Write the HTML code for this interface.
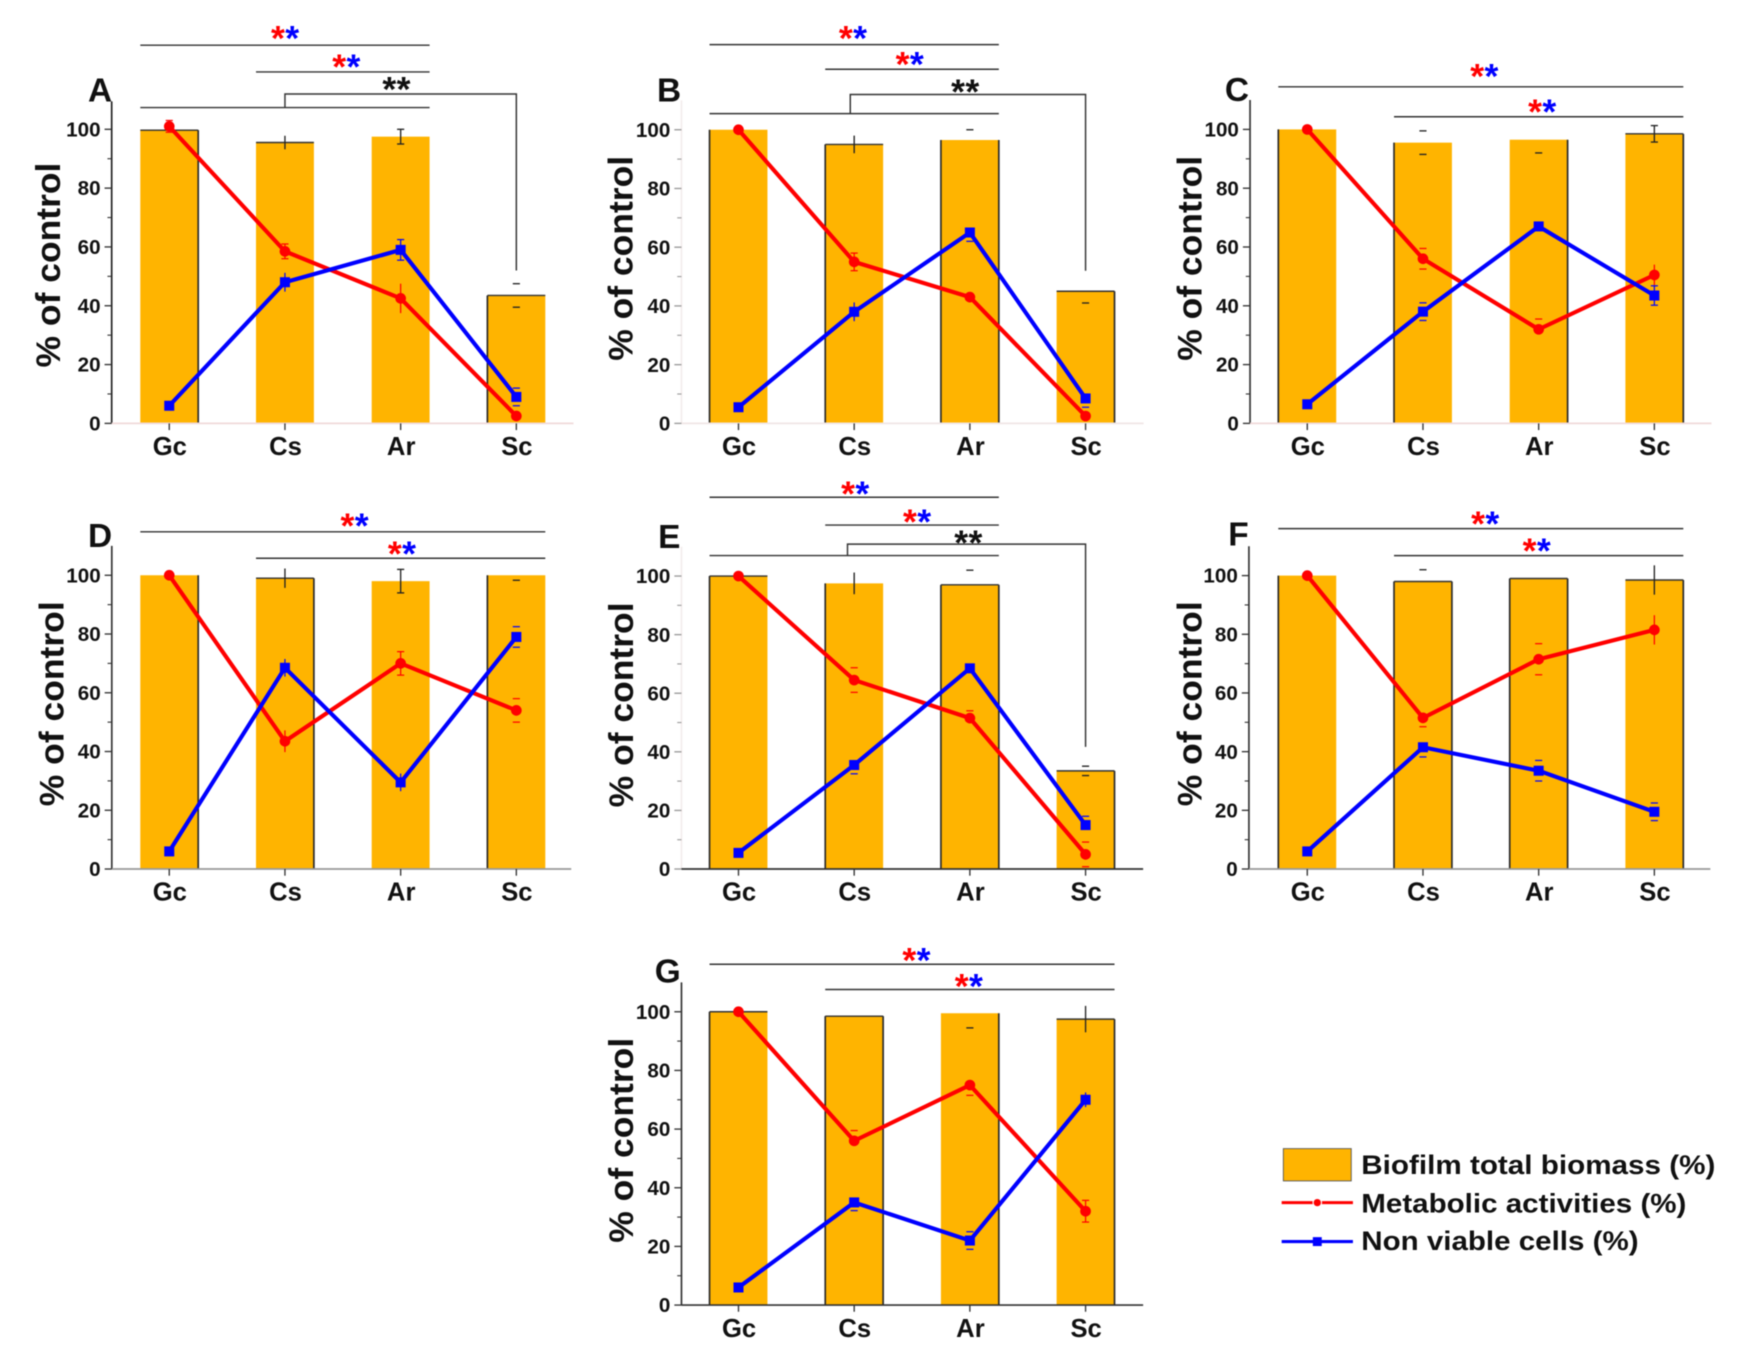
<!DOCTYPE html>
<html lang="en">
<head>
<meta charset="utf-8">
<title>Biofilm biomass, metabolic activity and non viable cells</title>
<style>
html,body{margin:0;padding:0;background:#fff;}
#figure{display:block;width:1746px;height:1367px;filter:blur(0.65px);}
text{font-family:"Liberation Sans",Arial,sans-serif;font-weight:bold;fill:#111;}
</style>
</head>
<body>
<svg id="figure" xmlns="http://www.w3.org/2000/svg" width="1746" height="1367" viewBox="0 0 1568 1227.6">
  <rect x="0" y="0" width="1568" height="1227.6" fill="#fff"/>
  <g id="panels"></g>
  <g id="legend">
    <rect x="1152.5" y="1031.5" width="61" height="29" fill="#FFB400" stroke="#555" stroke-width="0.8"/>
    <text x="1222.5" y="1054.5" font-size="24" textLength="318" lengthAdjust="spacingAndGlyphs">Biofilm total biomass (%)</text>
    <line x1="1151" y1="1080" x2="1215" y2="1080" stroke="#f00" stroke-width="2.8"/>
    <circle cx="1183" cy="1080" r="3.8" fill="#f00" stroke="#fff" stroke-width="1"/>
    <text x="1222.5" y="1089" font-size="24" textLength="292" lengthAdjust="spacingAndGlyphs">Metabolic activities (%)</text>
    <line x1="1151" y1="1115" x2="1215" y2="1115" stroke="#00f" stroke-width="2.8"/>
    <rect x="1179" y="1111" width="8" height="8" fill="#00f"/>
    <text x="1222.5" y="1122.6" font-size="24" textLength="249" lengthAdjust="spacingAndGlyphs">Non viable cells (%)</text>
  </g>
</svg>
<script>
// ---- Chart data (percent of control) ----
const categories = ['Gc', 'Cs', 'Ar', 'Sc'];
const yTickValues = [0, 20, 40, 60, 80, 100];
const yMinorTickValues = [10, 30, 50, 70, 90];

const biomassA = [99.7, 95.5, 97.5, 43.5];
const metabolicA = [101, 58.5, 42.5, 2.5];
const nonViableA = [6, 48, 59, 9];
const biomassErrA = [0, 2.3, 2.5, 4];
const metabolicErrA = [2, 2.5, 5, 1];
const nonViableErrA = [0.5, 3.2, 3.5, 3];

const biomassB = [100, 95, 96.5, 45];
const metabolicB = [100, 55, 43, 2.5];
const nonViableB = [5.5, 38, 65, 8.5];
const biomassErrB = [0, 3, 3.5, 4];
const metabolicErrB = [0.5, 3, 1, 1.5];
const nonViableErrB = [0.5, 3.2, 3, 3];

const biomassC = [100, 95.5, 96.5, 98.5];
const metabolicC = [100, 56, 32, 50.5];
const nonViableC = [6.5, 38, 67, 43.5];
const biomassErrC = [0, 4, 4.5, 2.8];
const metabolicErrC = [0.5, 3.5, 3.5, 3.5];
const nonViableErrC = [0.5, 3, 1, 3.3];

const biomassD = [100, 99, 98, 100];
const metabolicD = [100, 43.5, 70, 54];
const nonViableD = [6, 68.5, 29.5, 79];
const biomassErrD = [0, 3.3, 4, 1.7];
const metabolicErrD = [0.5, 3.7, 4, 4];
const nonViableErrD = [0.5, 3, 3, 3.5];

const biomassE = [100, 97.5, 97, 33.5];
const metabolicE = [100, 64.5, 51.5, 5];
const nonViableE = [5.5, 35.5, 68.5, 15];
const biomassErrE = [0, 3.7, 5, 1.6];
const metabolicErrE = [1, 4.2, 2.5, 4.2];
const nonViableErrE = [0.5, 3, 1, 3];

const biomassF = [100, 98, 99, 98.5];
const metabolicF = [100, 51.5, 71.5, 81.5];
const nonViableF = [6, 41.5, 33.5, 19.5];
const biomassErrF = [0, 4, 0, 5];
const metabolicErrF = [0.5, 3, 5.3, 5];
const nonViableErrF = [0.5, 3.3, 3.5, 3];

const biomassG = [100, 98.5, 99.5, 97.5];
const metabolicG = [100, 56, 75, 32];
const nonViableG = [6, 35, 22, 70];
const biomassErrG = [0, 0, 5, 4.5];
const metabolicErrG = [0.5, 3.5, 3.5, 3.7];
const nonViableErrG = [0.5, 2.8, 3, 2.5];

// ---- Panel layout ----
const panelLayouts = [
  {id:'A', values:biomassA, red:metabolicA, blue:nonViableA, barErr:biomassErrA, redErr:metabolicErrA, blueErr:nonViableErrA,
   axisX:100.3, first:152, y0:380.2, y100:116.1, endX:515, top:109.5, yColor:'#222', xColor:'#f0dada', tickColor:'#333',
   edges:['RT','T','','LT'], errModes:['none','line','full','caps'],
   redModes:['caps','full','line','none'], blueModes:['none','line','full','caps'],
   letter:[79,91], yLabel:[54,238],
   sig:[{from:0,to:2,level:128.6,star:[256,30],stars:'rb'},{from:1,to:2,level:119.5,star:[311,55.4],stars:'rb'},{from:0,to:2,level:107.4,star:[356,75.7],stars:'kk'}],
   bracket:{from:1,to:3,level:112,stop:52,dx:0}},
  {id:'B', values:biomassB, red:metabolicB, blue:nonViableB, barErr:biomassErrB, redErr:metabolicErrB, blueErr:nonViableErrB,
   axisX:612, first:663.2, y0:380.2, y100:116.5, endX:1027, top:110, yColor:'#f3ecec', xColor:'#f0e6e6', tickColor:'#999',
   edges:['L','LT','LR','TR'], errModes:['none','line','up','low'],
   redModes:['none','full','none','none'], blueModes:['none','line','low','low'],
   letter:[590,91], yLabel:[568,232],
   sig:[{from:0,to:2,level:129,star:[766,29.9],stars:'rb'},{from:1,to:2,level:120.6,star:[817,53],stars:'rb'},{from:0,to:2,level:105.5,star:[866.8,77.8],stars:'kk'}],
   bracket:{from:1,to:3,level:112,stop:52,dx:-3.5}},
  {id:'C', values:biomassC, red:metabolicC, blue:nonViableC, barErr:biomassErrC, redErr:metabolicErrC, blueErr:nonViableErrC,
   axisX:1122.6, first:1174, y0:380.2, y100:116.2, endX:1537, top:110, yColor:'#333', xColor:'#f0dada', tickColor:'#333',
   edges:['L','L','R','TR'], errModes:['none','caps','low','full'],
   redModes:['none','caps','up','line'], blueModes:['none','caps','none','full'],
   letter:[1100,90.5], yLabel:[1079,232],
   sig:[{from:0,to:3,level:114.5,star:[1333,63.8],stars:'rb'},{from:1,to:3,level:104.3,star:[1385,96],stars:'rb'}]},
  {id:'D', values:biomassD, red:metabolicD, blue:nonViableD, barErr:biomassErrD, redErr:metabolicErrD, blueErr:nonViableErrD,
   axisX:100.4, first:152, y0:780.4, y100:516.6, endX:513, top:110, yColor:'#333', xColor:'#999', tickColor:'#333',
   edges:['R','TR','','L'], errModes:['none','line','full','low'],
   redModes:['none','line','full','caps'], blueModes:['none','line','line','caps'],
   letter:[79,491], yLabel:[57,632],
   sig:[{from:0,to:3,level:114.8,star:[318.4,467.6],stars:'rb'},{from:1,to:3,level:105.8,star:[361,493],stars:'rb'}]},
  {id:'E', values:biomassE, red:metabolicE, blue:nonViableE, barErr:biomassErrE, redErr:metabolicErrE, blueErr:nonViableErrE,
   axisX:612, first:663.2, y0:780.4, y100:517.3, endX:1026.6, top:110, yColor:'#f3ecec', xColor:'#333', tickColor:'#999',
   edges:['LT','L','LTR','TR'], errModes:['none','line','up','caps'],
   redModes:['none','caps','up','caps'], blueModes:['none','low','none','up'],
   letter:[591,492], yLabel:[568.6,633],
   sig:[{from:0,to:2,level:126.9,star:[768,439],stars:'rb'},{from:1,to:2,level:117.4,star:[823.6,464],stars:'rb'},{from:0,to:2,level:107,star:[869.6,483],stars:'kk'}],
   bracket:{from:1,to:3,level:110.9,stop:41.7,dx:-6}},
  {id:'F', values:biomassF, red:metabolicF, blue:nonViableF, barErr:biomassErrF, redErr:metabolicErrF, blueErr:nonViableErrF,
   axisX:1121.6, first:1174, y0:780.4, y100:516.9, endX:1536, top:110, yColor:'#333', xColor:'#999', tickColor:'#333',
   edges:['L','LTR','LTR','TR'], errModes:['none','up','none','line'],
   redModes:['none','low','caps','line'], blueModes:['none','low','caps','caps'],
   letter:[1103,490], yLabel:[1079,632],
   sig:[{from:0,to:3,level:116,star:[1333.8,466],stars:'rb'},{from:1,to:3,level:106.8,star:[1380,490],stars:'rb'}]},
  {id:'G', values:biomassG, red:metabolicG, blue:nonViableG, barErr:biomassErrG, redErr:metabolicErrG, blueErr:nonViableErrG,
   axisX:612, first:663.2, y0:1172, y100:908.6, endX:1026.6, top:110, yColor:'#333', xColor:'#333', tickColor:'#333',
   edges:['LT','LTR','R','TR'], errModes:['none','none','low','line'],
   redModes:['none','up','low','full'], blueModes:['none','low','caps','line'],
   letter:[588,882.5], yLabel:[568.5,1024],
   sig:[{from:0,to:3,level:116.2,star:[823,858],stars:'rb'},{from:1,to:3,level:107.6,star:[870,881],stars:'rb'}]}
];

const SVG_NS = 'http://www.w3.org/2000/svg';
const CAT_STEP = 103.9;
const BAR_WIDTH = 52;
const starColors = {r:'#f00', b:'#00f', k:'#111'};

function xCat(p, i) { return p.first + i * CAT_STEP; }
function yVal(p, v) { return p.y0 - v * (p.y0 - p.y100) / 100; }

function make(tag, attrs, parent) {
  const node = document.createElementNS(SVG_NS, tag);
  for (const k in attrs) node.setAttribute(k, attrs[k]);
  parent.appendChild(node);
  return node;
}
function seg(x1, y1, x2, y2, color, width, parent) {
  return make('line', {x1:x1, y1:y1, x2:x2, y2:y2, stroke:color, 'stroke-width':width}, parent);
}
function stretchText(node, factor) {
  const w = node.getComputedTextLength();
  node.setAttribute('textLength', (w * factor).toFixed(1));
  node.setAttribute('lengthAdjust', 'spacingAndGlyphs');
}

function drawErr(parent, x, yHi, yLo, color, mode, width) {
  if (mode === 'full' || mode === 'line') {
    const v = seg(x, yHi, x, yLo, color, width, parent);
    
    
  }
  if (mode === 'full' || mode === 'caps' || mode === 'up') {
    const c1 = seg(x - 3.2, yHi, x + 3.2, yHi, color, width, parent);
    
    
  }
  if (mode === 'full' || mode === 'caps' || mode === 'low') {
    const c2 = seg(x - 3.2, yLo, x + 3.2, yLo, color, width, parent);
    
    
  }
}

function drawPanel(p, root) {
  const g = make('g', {}, root);
  
  

  // bars
  p.values.forEach(function (v, i) {
    const left = xCat(p, i) - BAR_WIDTH / 2;
    const right = left + BAR_WIDTH;
    const topY = yVal(p, v);
    const bar = make('rect', {x:left, y:topY, width:BAR_WIDTH, height:p.y0 - topY, fill:'#FFB400'}, g);
    
    
    const e = p.edges[i];
    if (e.indexOf('L') >= 0) {
      const l = seg(left, topY, left, p.y0, '#2a2a2a', 1.5, g);
      
      
    }
    if (e.indexOf('R') >= 0) {
      const r = seg(right, topY, right, p.y0, '#2a2a2a', 1.5, g);
      
      
    }
    if (e.indexOf('T') >= 0) {
      const t = seg(left, topY, right, topY, '#333', 1.3, g);
      
      
    }
    drawErr(g, xCat(p, i), yVal(p, v + p.barErr[i]), yVal(p, v - p.barErr[i]), '#222', p.errModes[i], 1.2);
  });

  // axes
  const yAxis = seg(p.axisX, yVal(p, p.top), p.axisX, p.y0, p.yColor, 1.5, g);
  
  
  const xAxis = seg(p.axisX, p.y0, p.endX, p.y0, p.xColor, 1.5, g);
  
  

  yTickValues.forEach(function (v) {
    const t = seg(p.axisX - 6.4, yVal(p, v), p.axisX, yVal(p, v), p.tickColor, 1.2, g);
    
    
    const lab = make('text', {x:p.axisX - 10, y:yVal(p, v) + 6.4, 'font-size':18, 'text-anchor':'end'}, g);
    lab.textContent = String(v);
    
    
    stretchText(lab, 1.03);
  });
  yMinorTickValues.forEach(function (v) {
    const t = seg(p.axisX - 3.8, yVal(p, v), p.axisX, yVal(p, v), p.tickColor, 1, g);
    
    
  });
  categories.forEach(function (c, i) {
    const t = seg(xCat(p, i), p.y0, xCat(p, i), p.y0 + 6, '#333', 1.2, g);
    
    
    const lab = make('text', {x:xCat(p, i) + 0.5, y:p.y0 + 28.5, 'font-size':23, 'text-anchor':'middle'}, g);
    lab.textContent = c;
    
    
    stretchText(lab, 1.0);
  });

  // y axis title
  const yt = make('text', {x:0, y:0, 'font-size':31, 'text-anchor':'middle', textLength:184, lengthAdjust:'spacingAndGlyphs',
    transform:'translate(' + p.yLabel[0] + ',' + p.yLabel[1] + ') rotate(-90)'}, g);
  yt.textContent = '% of control';
  
  

  // panel letter
  const let1 = make('text', {x:p.letter[0], y:p.letter[1], 'font-size':30}, g);
  let1.textContent = p.id;
  
  

  // error bars of line series
  p.red.forEach(function (v, i) {
    drawErr(g, xCat(p, i), yVal(p, v + p.redErr[i]), yVal(p, v - p.redErr[i]), '#f00', p.redModes[i], 1.1);
  });
  p.blue.forEach(function (v, i) {
    drawErr(g, xCat(p, i), yVal(p, v + p.blueErr[i]), yVal(p, v - p.blueErr[i]), '#00f', p.blueModes[i], 1.1);
  });

  // red series
  const redLine = make('polyline', {
    points: p.red.map(function (v, i) { return xCat(p, i) + ',' + yVal(p, v); }).join(' '),
    fill:'none', stroke:'#f00', 'stroke-width':3.7, 'stroke-linejoin':'round'}, g);
  
  
  p.red.forEach(function (v, i) {
    const m = make('circle', {cx:xCat(p, i), cy:yVal(p, v), r:4.8, fill:'#f00'}, g);
    
    
  });

  // blue series
  const blueLine = make('polyline', {
    points: p.blue.map(function (v, i) { return xCat(p, i) + ',' + yVal(p, v); }).join(' '),
    fill:'none', stroke:'#00f', 'stroke-width':3.7, 'stroke-linejoin':'round'}, g);
  
  
  p.blue.forEach(function (v, i) {
    const m = make('rect', {x:xCat(p, i) - 4.5, y:yVal(p, v) - 4.5, width:9, height:9, fill:'#00f'}, g);
    
    
  });

  // significance lines
  p.sig.forEach(function (s) {
    const x1 = xCat(p, s.from) - BAR_WIDTH / 2;
    const x2 = xCat(p, s.to) + BAR_WIDTH / 2;
    const l = seg(x1, yVal(p, s.level), x2, yVal(p, s.level), '#333', 1.3, g);
    
    
    [0, 1].forEach(function (k) {
      const st = make('text', {x:s.star[0] + (k ? 6.4 : -6.4), y:s.star[1] + 15.5, 'font-size':32, 'text-anchor':'middle'}, g);
      st.textContent = '*';
      st.style.fill = starColors[s.stars[k]];
      
      
    });
  });

  // significance bracket
  if (p.bracket) {
    const b = p.bracket;
    const base = p.sig[2].level;
    const bx1 = xCat(p, b.from) + b.dx;
    const bx2 = xCat(p, b.to);
    const path = make('polyline', {
      points: bx1 + ',' + yVal(p, base) + ' ' + bx1 + ',' + yVal(p, b.level) + ' ' + bx2 + ',' + yVal(p, b.level) + ' ' + bx2 + ',' + yVal(p, b.stop),
      fill:'none', stroke:'#333', 'stroke-width':1.3}, g);
    
    
  }
}

const panelRoot = document.getElementById('panels');
panelLayouts.forEach(function (p) { drawPanel(p, panelRoot); });
</script>
</body>
</html>
